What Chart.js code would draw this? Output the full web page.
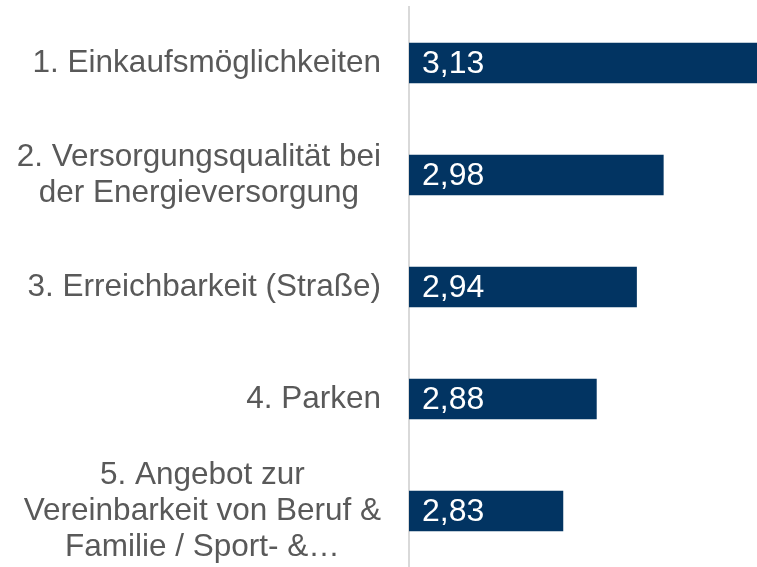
<!DOCTYPE html>
<html>
<head>
<meta charset="utf-8">
<script src="https://cdn.jsdelivr.net/npm/chart.js@4.4.1/dist/chart.umd.min.js"></script>
<style>
    html, body { margin: 0; padding: 0; background: #fff; overflow: hidden; }
    #wrap { width: 757px; height: 567px; }
</style>
</head>
<body>
<div id="wrap"><canvas id="chart-ranking"></canvas></div>
<script>
const categories = [
    ['1. Einkaufsmöglichkeiten'],
    ['2. Versorgungsqualität bei', 'der Energieversorgung'],
    ['3. Erreichbarkeit (Straße)'],
    ['4. Parken'],
    ['5. Angebot zur', 'Vereinbarkeit von Beruf &', 'Familie / Sport- &…'],
];
const values = [3.13, 2.98, 2.94, 2.88, 2.83];
const valueLabels = ['3,13', '2,98', '2,94', '2,88', '2,83'];

const fontFamily = '"Liberation Sans", Arial, sans-serif';

// category labels: block right-aligned, lines centered inside it
const categoryLabels = {
    id: 'categoryLabels',
    afterDraw(chart) {
        const ctx = chart.ctx;
        const yScale = chart.scales.y;
        const lineHeight = 36;
        ctx.save();
        ctx.font = '31.5px ' + fontFamily;
        ctx.fillStyle = '#595959';
        ctx.textBaseline = 'middle';
        ctx.textAlign = 'center';
        categories.forEach((lines, i) => {
            const widest = Math.max(...lines.map(l => ctx.measureText(l).width));
            const cx = 381 - widest / 2;
            const cy = yScale.getPixelForValue(i);
            const top = cy - (lines.length - 1) * lineHeight / 2;
            lines.forEach((line, j) => {
                ctx.fillText(line, cx, top + j * lineHeight);
            });
        });
        ctx.restore();
    },
};

// value labels inside the bars
const valueTags = {
    id: 'valueTags',
    afterDraw(chart) {
        const ctx = chart.ctx;
        const xScale = chart.scales.x;
        const yScale = chart.scales.y;
        ctx.save();
        ctx.font = '32px ' + fontFamily;
        ctx.fillStyle = '#ffffff';
        ctx.textBaseline = 'middle';
        ctx.textAlign = 'left';
        valueLabels.forEach((label, i) => {
            ctx.fillText(label, xScale.left + 13, yScale.getPixelForValue(i) + 1);
        });
        ctx.restore();
    },
};

new Chart(document.getElementById('chart-ranking'), {
    type: 'bar',
    data: {
        labels: categories,
        datasets: [{
            data: values,
            backgroundColor: '#023462',
            borderWidth: 0,
            barThickness: 40,
        }],
    },
    options: {
        indexAxis: 'y',
        responsive: true,
        maintainAspectRatio: false,
        animation: false,
        events: [],
        layout: {
            padding: { top: 7, right: 0, bottom: 0, left: 0 },
        },
        scales: {
            x: {
                display: false,
                min: 2.6,
                max: 3.12,
            },
            y: {
                grid: { display: false },
                border: { display: true, color: '#d9d9d9', width: 2 },
                ticks: { display: false },
                afterFit(scale) {
                    scale.width = 409;
                },
            },
        },
        plugins: {
            legend: { display: false },
            tooltip: { enabled: false },
        },
    },
    plugins: [categoryLabels, valueTags],
});
</script>
</body>
</html>
